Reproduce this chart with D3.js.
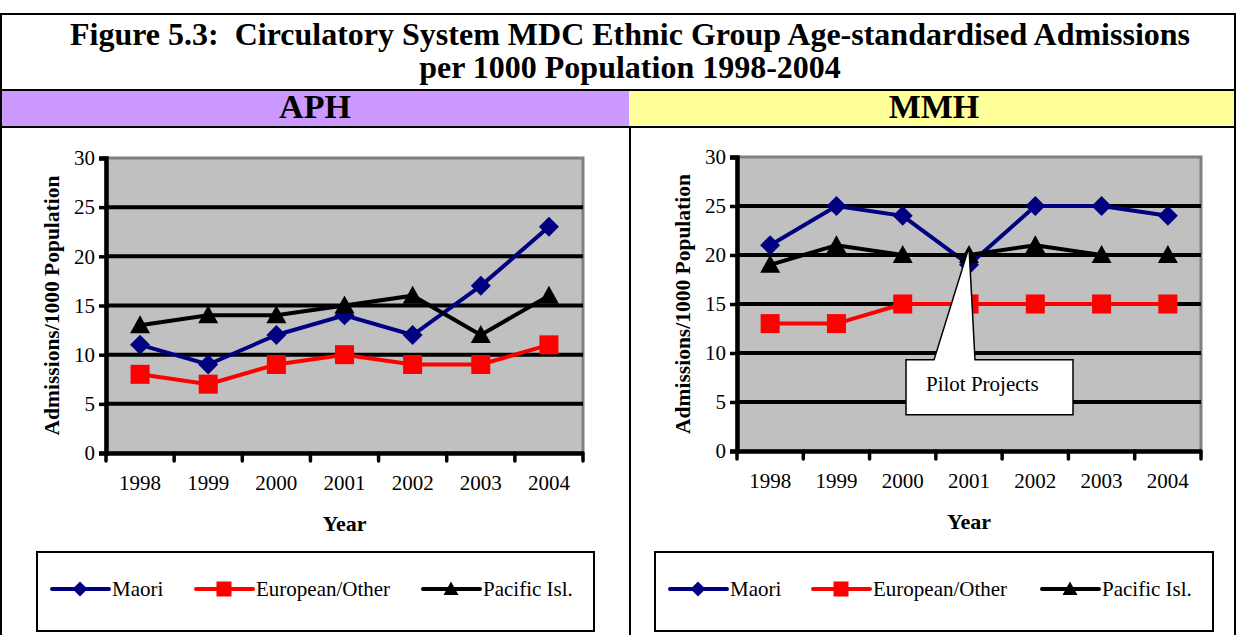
<!DOCTYPE html>
<html>
<head>
<meta charset="utf-8">
<script src="https://cdn.jsdelivr.net/npm/d3@7"></script>
<style>
  body { margin: 0; background: #fff; }
  svg { display: block; font-family: "Liberation Serif", "Times New Roman", serif; }
</style>
</head>
<body>
<div id="chart"></div>
<script>
// chart data
const years = ['1998', '1999', '2000', '2001', '2002', '2003', '2004'];
const seriesNames = ['Maori', 'European/Other', 'Pacific Isl.'];
const yTicks = [0, 5, 10, 15, 20, 25, 30];

const aphMaori = [11, 9, 12, 14, 12, 17, 23];
const aphEuropean = [8, 7, 9, 10, 9, 9, 11];
const aphPacific = [13, 14, 14, 15, 16, 12, 16];

const mmhMaori = [21, 25, 24, 19, 25, 25, 24];
const mmhEuropean = [13, 13, 15, 15, 15, 15, 15];
const mmhPacific = [19, 21, 20, 20, 21, 20, 20];

const titleLines = ['Figure 5.3:  Circulatory System MDC Ethnic Group Age-standardised Admissions',
  'per 1000 Population 1998-2004'];
const panelNames = ['APH', 'MMH'];
const calloutText = 'Pilot Projects';
const calloutYear = '2001';
const calloutValue = 20.8;

const colors = ['#000080', '#ff0000', '#000000'];
const markers = ['diamond', 'square', 'triangle'];

const W = 1236, H = 635;
const svg = d3.select('#chart').append('svg')
  .attr('width', W)
  .attr('height', H);

// header table
svg.append('rect').attr('x', 0).attr('y', 91).attr('width', 629).attr('height', 36).attr('fill', '#cc99ff');
svg.append('rect').attr('x', 629).attr('y', 91).attr('width', W - 629).attr('height', 36).attr('fill', '#ffff99');

const lines = svg.append('g').attr('stroke', '#000').attr('stroke-width', 2);
lines.append('line').attr('x1', 0).attr('x2', W).attr('y1', 14).attr('y2', 14);
lines.append('line').attr('x1', 0).attr('x2', W).attr('y1', 90).attr('y2', 90);
lines.append('line').attr('x1', 0).attr('x2', W).attr('y1', 127).attr('y2', 127);
lines.append('line').attr('x1', 1).attr('x2', 1).attr('y1', 13).attr('y2', H);
lines.append('line').attr('x1', W - 1).attr('x2', W - 1).attr('y1', 13).attr('y2', H);
lines.append('line').attr('x1', 630).attr('x2', 630).attr('y1', 127).attr('y2', H);

svg.selectAll('.title')
  .data(titleLines)
  .enter()
  .append('text')
  .attr('x', 630)
  .attr('y', (d, i) => 45 + i * 33)
  .attr('text-anchor', 'middle')
  .style('font-size', '32px')
  .style('font-weight', 'bold')
  .style('white-space', 'pre')
  .text(d => d);

svg.selectAll('.panel-name')
  .data(panelNames)
  .enter()
  .append('text')
  .attr('x', (d, i) => i === 0 ? 315 : 934)
  .attr('y', 118)
  .attr('text-anchor', 'middle')
  .style('font-size', '34px')
  .style('font-weight', 'bold')
  .text(d => d);

function drawMarker(g, type, color, cx, cy, s) {
  if (type === 'diamond') {
    g.append('path')
      .attr('d', `M${cx},${cy - s}L${cx + s},${cy}L${cx},${cy + s}L${cx - s},${cy}Z`)
      .attr('fill', color);
  } else if (type === 'square') {
    g.append('rect')
      .attr('x', cx - s).attr('y', cy - s)
      .attr('width', s * 2).attr('height', s * 2)
      .attr('fill', color);
  } else {
    g.append('path')
      .attr('d', `M${cx},${cy - s}L${cx + s},${cy + s * 0.8}L${cx - s},${cy + s * 0.8}Z`)
      .attr('fill', color);
  }
}

const markerSize = { diamond: 10, square: 9.5, triangle: 10 };

function drawPanel(opts, seriesData) {
  const g = svg.append('g');
  const x = d3.scaleBand().domain(years).range([opts.left, opts.right]);
  const y = d3.scaleLinear().domain([0, 30]).range([opts.bottom, opts.top]);

  // plot area
  g.append('rect')
    .attr('x', opts.left).attr('y', opts.top)
    .attr('width', opts.right - opts.left).attr('height', opts.bottom - opts.top)
    .attr('fill', '#c0c0c0')
    .attr('stroke', '#808080')
    .attr('stroke-width', 3);

  // gridlines
  g.selectAll('.grid')
    .data(yTicks.filter(d => d > 0 && d < 30))
    .enter()
    .append('line')
    .attr('x1', opts.left).attr('x2', opts.right)
    .attr('y1', d => y(d)).attr('y2', d => y(d))
    .attr('stroke', '#000')
    .attr('stroke-width', 4);

  // y axis
  const yAxis = g.append('g')
    .attr('transform', `translate(${opts.left},0)`)
    .call(d3.axisLeft(y).tickValues(yTicks).tickSize(7).tickPadding(4));
  yAxis.select('.domain').attr('stroke-width', 4.5);
  yAxis.selectAll('.tick line').attr('stroke-width', 3.5);
  yAxis.selectAll('.tick text')
    .style('font-size', '21px')
    .style('font-family', '"Liberation Serif", serif');

  // x axis
  const xAxis = g.append('g')
    .attr('transform', `translate(0,${opts.bottom})`)
    .call(d3.axisBottom(x).tickSize(0).tickPadding(22));
  xAxis.select('.domain').attr('stroke-width', 4.5);
  xAxis.selectAll('.tick text')
    .style('font-size', '21px')
    .style('font-family', '"Liberation Serif", serif');
  xAxis.selectAll('.bound')
    .data(years.concat(['end']))
    .enter()
    .append('line')
    .attr('x1', (d, i) => opts.left + i * x.step())
    .attr('x2', (d, i) => opts.left + i * x.step())
    .attr('y1', 0).attr('y2', 8)
    .attr('stroke', '#000')
    .attr('stroke-width', 3.5)
    .attr('stroke-linecap', 'round');

  // axis titles
  g.append('text')
    .attr('x', (opts.left + opts.right) / 2)
    .attr('y', opts.bottom + 78)
    .attr('text-anchor', 'middle')
    .style('font-size', '22px')
    .style('font-weight', 'bold')
    .text('Year');
  g.append('text')
    .attr('transform', `translate(${opts.left - 47},${(opts.top + opts.bottom) / 2}) rotate(-90)`)
    .attr('text-anchor', 'middle')
    .style('font-size', '21.5px')
    .style('font-weight', 'bold')
    .text('Admissions/1000 Population');

  // series
  const line = d3.line()
    .x((d, i) => x(years[i]) + x.bandwidth() / 2)
    .y(d => y(d));
  seriesData.forEach((vals, k) => {
    g.append('path')
      .datum(vals)
      .attr('d', line)
      .attr('fill', 'none')
      .attr('stroke', colors[k])
      .attr('stroke-width', 4);
    const mg = g.append('g');
    vals.forEach((v, i) => {
      drawMarker(mg, markers[k], colors[k], x(years[i]) + x.bandwidth() / 2, y(v), markerSize[markers[k]]);
    });
  });

  // callout
  if (opts.callout) {
    const tipX = x(calloutYear) + x.bandwidth() / 2;
    const tipY = y(calloutValue);
    const bx = tipX - 63, by = y(9.3), bw = 167, bh = 55;
    g.append('path')
      .attr('d', `M${bx},${by}L${tipX - 35},${by}L${tipX},${tipY}L${tipX + 6},${by}L${bx + bw},${by}L${bx + bw},${by + bh}L${bx},${by + bh}Z`)
      .attr('fill', '#fff')
      .attr('stroke', '#000')
      .attr('stroke-width', 1.5);
    g.append('text')
      .attr('x', bx + 20)
      .attr('y', by + 31)
      .style('font-size', '21px')
      .text(calloutText);
  }

  // legend
  const lg = g.append('g');
  lg.append('rect')
    .attr('x', opts.legend.x).attr('y', 552)
    .attr('width', opts.legend.w).attr('height', 79)
    .attr('fill', '#fff')
    .attr('stroke', '#000')
    .attr('stroke-width', 2);
  seriesNames.forEach((name, k) => {
    const lx = opts.legend.items[k];
    lg.append('line')
      .attr('x1', lx).attr('x2', lx + 57)
      .attr('y1', 589).attr('y2', 589)
      .attr('stroke', colors[k])
      .attr('stroke-width', 4)
      .attr('stroke-linecap', 'round');
    drawMarker(lg, markers[k], colors[k], lx + 28, 589, 7.5);
    lg.append('text')
      .attr('x', lx + 60)
      .attr('y', 596)
      .style('font-size', '21px')
      .text(name);
  });
}

drawPanel({
  left: 106, right: 583, top: 158, bottom: 453,
  legend: { x: 37, w: 557, items: [52, 196, 423] }
}, [aphMaori, aphEuropean, aphPacific]);

drawPanel({
  left: 737, right: 1201, top: 157, bottom: 451,
  callout: true,
  legend: { x: 655, w: 558, items: [670, 813, 1042] }
}, [mmhMaori, mmhEuropean, mmhPacific]);
</script>
</body>
</html>
